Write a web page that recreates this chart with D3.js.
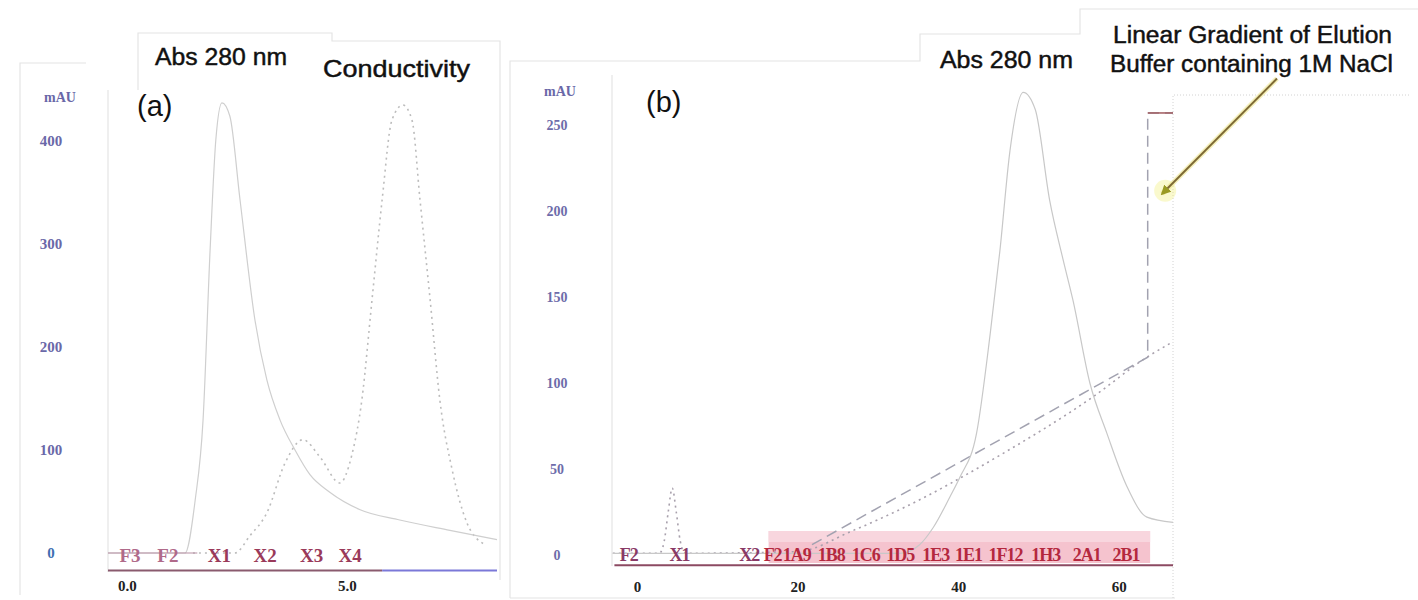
<!DOCTYPE html>
<html>
<head>
<meta charset="utf-8">
<script src="https://cdn.jsdelivr.net/npm/d3@7"></script>
<style>
  body { margin: 0; background: #fff; }
</style>
</head>
<body>
<svg id="chart" width="1418" height="600"></svg>
<script>
// ---- panel (a) data : elution volume (ml) vs mAU ----
const absA = [[-0.43,0],[1.2,0],[1.32,0],[1.55,51],[1.73,129],[1.89,294],[2.02,401],[2.16,437],
  [2.34,424],[2.57,343],[2.91,226],[3.18,168],[3.48,129],[3.82,100],[4.16,76],[4.61,59],
  [5.3,42],[6.2,32],[7.34,22],[8.41,13]];
const condA = [[1.5,0],[2.45,0],[2.8,17],[3.18,39],[3.59,87],[4.0,110],[4.39,93],[4.84,68],
  [5.11,95],[5.34,149],[5.57,246],[5.8,343],[6.02,420],[6.27,435],[6.48,420],[6.66,343],
  [6.89,246],[7.11,149],[7.39,81],[7.73,29],[8.14,8]];
const fracNamesA = ["F3","F2","X1","X2","X3","X4"];
const fracPosA = [0.07,0.93,2.1,3.14,4.2,5.07];
const yTicksA = [0,100,200,300,400];
const xTicksA = [0,5];

// ---- panel (b) data ----
const absB = [[-3,1],[32.75,1],[35.2,6],[36.9,16],[39.0,34],[40.2,45],[42.3,71],[44.0,129],
  [45.2,177],[46.45,235],[48.1,269],[49.6,259],[51.4,206],[53.05,172],[54.3,148],[56.4,100],
  [58.5,71],[61.0,40],[63.5,22],[66.75,19]];
const condB = [[-3,1],[2.8,1],[3.4,8],[3.9,25],[4.4,39],[4.9,25],[5.4,8],[6,1],[20,2],
  [26.8,14],[33,27],[45.2,58],[56.8,92],[63.5,115],[66.75,124]];
const gradB = [[21.8,6],[63.6,115],[63.6,257],[66.75,257]];
const fracNamesB = ["F2","X1","X2","F2","1A9","1B8","1C6","1D5","1E3","1E1","1F12","1H3","2A1","2B1"];
const fracPosB = [-1,5.3,14.0,16.9,19.9,24.2,28.5,32.8,37.2,41.3,45.9,50.9,56.0,60.9];
const collectB = [16.4, 63.9];   // fraction collector range (ml)
const yTicksB = [0,50,100,150,200,250];
const xTicksB = [0,20,40,60];

const svg = d3.select("#chart");

// faint scan frames
const frame = svg.append("g").attr("stroke", "#e4e4e4").attr("fill", "none").attr("stroke-width", 1.2);
frame.append("path").attr("d", "M20,595 V63 H86");
frame.append("path").attr("d", "M138,90 V33 H332 V41 H500 V580");
frame.append("path").attr("d", "M108,90 V572");
frame.append("path").attr("d", "M510,598 V61 H920 V34 H1080 V9 H1418");
frame.append("path").attr("d", "M510,598 H1175");
frame.append("path").attr("d", "M612,75 V566");
svg.append("path").attr("d", "M1173,598 V95 H1410").attr("fill", "none")
  .attr("stroke", "#d2d2d2").attr("stroke-dasharray", "1,2");

// ---------- panel (a) ----------
const xA = d3.scaleLinear().domain([-0.43, 8.41]).range([108, 497]);
const yA = d3.scaleLinear().domain([0, 400]).range([553, 141]);

const lineA = d3.line().x(d => xA(d[0])).y(d => yA(d[1])).curve(d3.curveMonotoneX);

svg.append("path").datum(condA).attr("d", lineA).attr("fill", "none")
  .attr("stroke", "#bcbcbc").attr("stroke-width", 1.6).attr("stroke-dasharray", "2,4");
svg.append("path").datum(absA).attr("d", lineA).attr("fill", "none")
  .attr("stroke", "#cfcfcf").attr("stroke-width", 1.2);

// baseline
svg.append("line").attr("x1", xA(-0.43)).attr("x2", xA(5.8)).attr("y1", yA(-17)).attr("y2", yA(-17))
  .attr("stroke", "#8a5a6e").attr("stroke-width", 2);
svg.append("line").attr("x1", xA(5.8)).attr("x2", xA(8.41)).attr("y1", yA(-17)).attr("y2", yA(-17))
  .attr("stroke", "#7b78d8").attr("stroke-width", 2);
svg.append("line").attr("x1", xA(-0.43)).attr("x2", xA(1.6)).attr("y1", yA(0)).attr("y2", yA(0))
  .attr("stroke", "#b890a4").attr("stroke-width", 1.2);

svg.append("g").selectAll("text").data(fracNamesA).join("text")
  .attr("x", (d, i) => xA(fracPosA[i])).attr("y", yA(-2)).attr("dy", "0.35em")
  .attr("text-anchor", "middle")
  .attr("font-family", "Liberation Serif, serif").attr("font-weight", "bold").attr("font-size", 19)
  .attr("fill", (d, i) => i < 2 ? "#b06a8a" : "#9a3a5a")
  .text(d => d);

// y axis (a)
const axA = svg.append("g").attr("transform", "translate(51,0)")
  .call(d3.axisLeft(yA).tickValues(yTicksA).tickSize(0).tickPadding(0));
axA.select(".domain").remove();
axA.selectAll("text").attr("text-anchor", "middle").attr("x", 0)
  .attr("font-family", "Liberation Serif, serif").attr("font-weight", "bold").attr("font-size", 15)
  .attr("fill", d => d === 0 ? "#3f6fb2" : "#6a68a8");
svg.append("text").attr("x", 60).attr("y", 102).attr("text-anchor", "middle")
  .attr("font-family", "Liberation Serif, serif").attr("font-weight", "bold").attr("font-size", 14)
  .attr("fill", "#6a68a8").text("mAU");

// x axis (a)
const bxA = svg.append("g").attr("transform", "translate(0,580)")
  .call(d3.axisBottom(xA).tickValues(xTicksA).tickSize(0).tickPadding(0).tickFormat(d3.format(".1f")));
bxA.select(".domain").remove();
bxA.selectAll("text").attr("font-family", "Liberation Serif, serif").attr("font-weight", "bold")
  .attr("font-size", 15).attr("fill", "#222");

// titles (a)
const sans = "Liberation Sans, Arial, sans-serif";
function title(x, y, len, txt, size) {
  svg.append("text").attr("x", x).attr("y", y).attr("textLength", len)
    .attr("lengthAdjust", "spacingAndGlyphs").attr("font-family", sans)
    .attr("font-size", size).attr("fill", "#111").attr("stroke", "#111").attr("stroke-width", 0.45)
    .text(txt);
}
title(155, 65, 132, "Abs 280 nm", 23);
title(323, 77, 147, "Conductivity", 24);
svg.append("text").attr("x", 137).attr("y", 116).attr("font-family", sans)
  .attr("font-size", 29).attr("fill", "#111").text("(a)");

// ---------- panel (b) ----------
const xB = d3.scaleLinear().domain([-3.1, 66.75]).range([612, 1173]);
const yB = d3.scaleLinear().domain([0, 250]).range([555, 125]);

const curveB = d3.line().x(d => xB(d[0])).y(d => yB(d[1])).curve(d3.curveMonotoneX);
const straightB = d3.line().x(d => xB(d[0])).y(d => yB(d[1]));

// fraction collector band
svg.append("rect").attr("x", xB(collectB[0])).attr("width", xB(collectB[1]) - xB(collectB[0]))
  .attr("y", 531).attr("height", 32).attr("fill", "#f3b9c6").attr("opacity", 0.85);
svg.append("rect").attr("x", xB(collectB[0])).attr("width", xB(collectB[1]) - xB(collectB[0]))
  .attr("y", 531).attr("height", 11).attr("fill", "#f9dbe2").attr("opacity", 0.8);

svg.append("path").datum(condB).attr("d", curveB).attr("fill", "none")
  .attr("stroke", "#a8a0ac").attr("stroke-width", 1.6).attr("stroke-dasharray", "2,4");
svg.append("path").datum(gradB).attr("d", straightB).attr("fill", "none")
  .attr("stroke", "#a2a2b0").attr("stroke-width", 1.5).attr("stroke-dasharray", "11,6");
svg.append("path").datum(gradB.slice(-2)).attr("d", straightB).attr("fill", "none")
  .attr("stroke", "#a05a5e").attr("stroke-width", 1.5);
svg.append("path").datum(absB).attr("d", curveB).attr("fill", "none")
  .attr("stroke", "#c8c8c8").attr("stroke-width", 1.2);

svg.append("line").attr("x1", xB(-2.8)).attr("x2", xB(66.75)).attr("y1", yB(-6)).attr("y2", yB(-6))
  .attr("stroke", "#8c4a62").attr("stroke-width", 2);

svg.append("g").selectAll("text").data(fracNamesB).join("text")
  .attr("x", (d, i) => xB(fracPosB[i])).attr("y", yB(0)).attr("dy", "0.35em")
  .attr("text-anchor", "middle")
  .attr("font-family", "Liberation Serif, serif").attr("font-weight", "bold").attr("font-size", 18)
  .attr("letter-spacing", -1)
  .attr("fill", (d, i) => i < 3 ? "#8a3a66" : "#b4283e")
  .text(d => d);

// y axis (b)
const axB = svg.append("g").attr("transform", "translate(557,0)")
  .call(d3.axisLeft(yB).tickValues(yTicksB).tickSize(0).tickPadding(0));
axB.select(".domain").remove();
axB.selectAll("text").attr("text-anchor", "middle").attr("x", 0)
  .attr("font-family", "Liberation Serif, serif").attr("font-weight", "bold").attr("font-size", 14)
  .attr("fill", "#6e6caa");
svg.append("text").attr("x", 560).attr("y", 96).attr("text-anchor", "middle")
  .attr("font-family", "Liberation Serif, serif").attr("font-weight", "bold").attr("font-size", 14)
  .attr("fill", "#6a68a8").text("mAU");

// x axis (b)
const bxB = svg.append("g").attr("transform", "translate(0,581)")
  .call(d3.axisBottom(xB).tickValues(xTicksB).tickSize(0).tickPadding(0));
bxB.select(".domain").remove();
bxB.selectAll("text").attr("font-family", "Liberation Serif, serif").attr("font-weight", "bold")
  .attr("font-size", 15).attr("fill", "#222");

// titles (b)
title(940, 68, 133, "Abs 280 nm", 23);
svg.append("text").attr("x", 646).attr("y", 112).attr("font-family", sans)
  .attr("font-size", 29).attr("fill", "#111").text("(b)");
title(1113, 43, 279, "Linear Gradient of Elution", 23);
title(1110, 72, 283, "Buffer containing 1M NaCl", 23);

// arrow pointing at the gradient step
const arrowFrom = [79.7, 277], arrowTo = [65.4, 210];
svg.append("defs").append("marker").attr("id", "head")
  .attr("viewBox", "0 0 10 10").attr("refX", 8).attr("refY", 5)
  .attr("markerWidth", 5).attr("markerHeight", 5).attr("orient", "auto")
  .append("path").attr("d", "M0,0 L10,5 L0,10 z").attr("fill", "#9a9a22");
svg.append("circle").attr("cx", xB(arrowTo[0]) + 3).attr("cy", yB(arrowTo[1]) - 3).attr("r", 11)
  .attr("fill", "#f2ee70").attr("opacity", 0.35);
svg.append("line").attr("x1", xB(arrowFrom[0])).attr("y1", yB(arrowFrom[1]))
  .attr("x2", xB(arrowTo[0])).attr("y2", yB(arrowTo[1]))
  .attr("stroke", "#f0e890").attr("stroke-width", 5).attr("opacity", 0.6);
svg.append("line").attr("x1", xB(arrowFrom[0])).attr("y1", yB(arrowFrom[1]))
  .attr("x2", xB(arrowTo[0])).attr("y2", yB(arrowTo[1]))
  .attr("stroke", "#7e6a34").attr("stroke-width", 2).attr("marker-end", "url(#head)");
</script>
</body>
</html>
